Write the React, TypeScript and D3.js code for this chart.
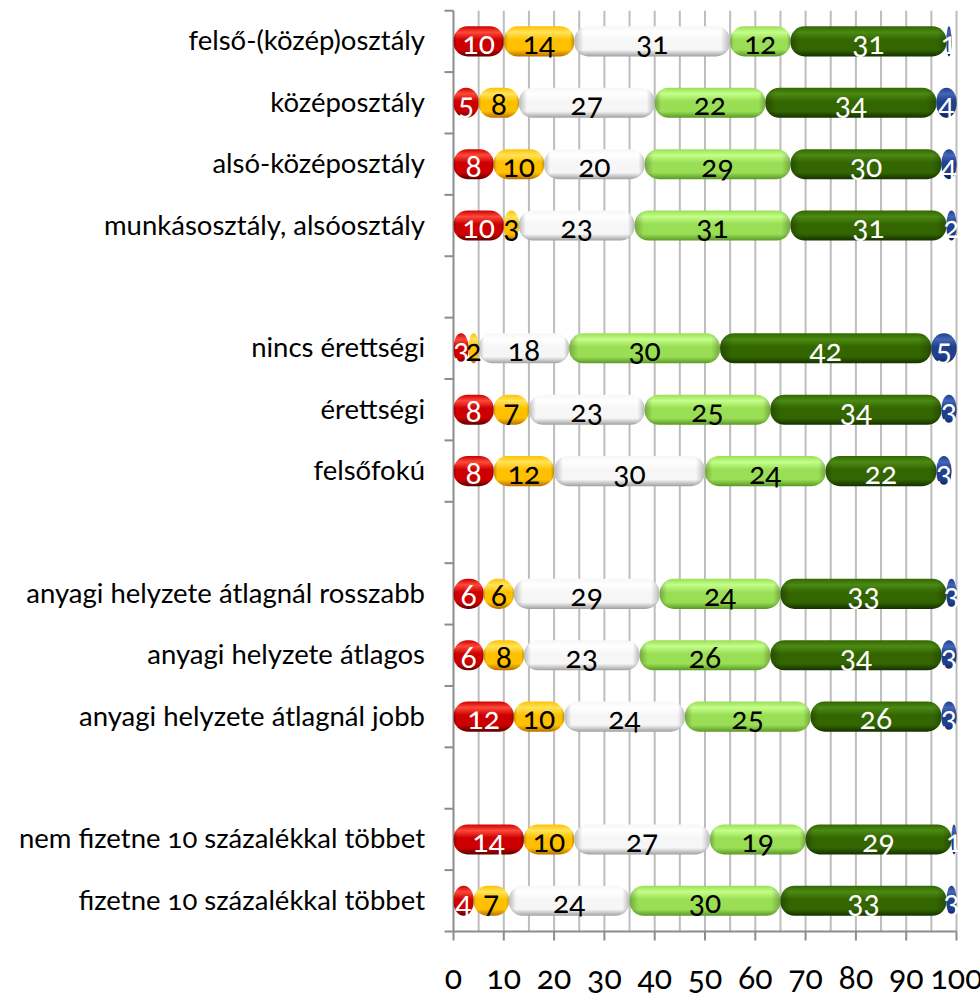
import React from "react";
import * as d3 from "d3";

const rowLabels = [
  "felső-(közép)osztály",
  "középosztály",
  "alsó-középosztály",
  "munkásosztály, alsóosztály",
  "",
  "nincs érettségi",
  "érettségi",
  "felsőfokú",
  "",
  "anyagi helyzete átlagnál rosszabb",
  "anyagi helyzete átlagos",
  "anyagi helyzete átlagnál jobb",
  "",
  "nem fizetne 10 százalékkal többet",
  "fizetne 10 százalékkal többet",
];

const seriesKeys = ["s1", "s2", "s3", "s4", "s5", "s6"];
const s1 = [10, 5, 8, 10, null, 3, 8, 8, null, 6, 6, 12, null, 14, 4];
const s2 = [14, 8, 10, 3, null, 2, 7, 12, null, 6, 8, 10, null, 10, 7];
const s3 = [31, 27, 20, 23, null, 18, 23, 30, null, 29, 23, 24, null, 27, 24];
const s4 = [12, 22, 29, 31, null, 30, 25, 24, null, 24, 26, 25, null, 19, 30];
const s5 = [31, 34, 30, 31, null, 42, 34, 22, null, 33, 34, 26, null, 29, 33];
const s6 = [1, 4, 4, 2, null, 5, 3, 3, null, 3, 3, 3, null, 1, 3];
const seriesValues = [s1, s2, s3, s4, s5, s6];

const xTicks = [0, 10, 20, 30, 40, 50, 60, 70, 80, 90, 100];
const gridValues = d3.range(5, 101, 5);

const palette = [
  { top: "#ff4a3a", mid: "#cc0000", bot: "#5e0000", text: "#ffffff" },
  { top: "#ffe45a", mid: "#ffc000", bot: "#b87000", text: "#000000" },
  { top: "#ffffff", mid: "#f6f6f6", bot: "#a0a0a0", text: "#000000" },
  { top: "#c4ff8a", mid: "#9ade55", bot: "#5a9826", text: "#000000" },
  { top: "#4c8a14", mid: "#336600", bot: "#153000", text: "#ffffff" },
  { top: "#4466b8", mid: "#203f8c", bot: "#0c1f55", text: "#ffffff" },
];

const W = 980;
const H = 999;
const left = 453.5;
const right = 956.5;
const top = 10.7;
const bottom = 931.5;

export default function App() {
  const x = d3.scaleLinear().domain([0, 100]).range([left, right]);
  const y = d3
    .scaleBand<number>()
    .domain(d3.range(rowLabels.length))
    .range([top, bottom])
    .paddingInner(0)
    .paddingOuter(0);
  const bh = y.bandwidth() * 0.49;

  const table = rowLabels.map((_, i) => {
    const o: any = { idx: i };
    seriesKeys.forEach((k, j) => (o[k] = seriesValues[j][i] ?? 0));
    return o;
  });
  const stacked = d3.stack<any>().keys(seriesKeys)(table);

  const font = "Lato, 'Open Sans', sans-serif";
  const boundaries = d3.range(rowLabels.length + 1).map((i) => top + i * y.step());

  return (
    <svg
      width={W}
      height={H}
      style={{ position: "absolute", left: 0, top: 0, background: "#fff" }}
      fontFamily={font}
    >
      <defs>
        {palette.map((p, j) => (
          <linearGradient key={j} id={`g${j}`} x1="0" y1="0" x2="0" y2="1">
            <stop offset="0" stopColor={p.mid} />
            <stop offset="0.2" stopColor={p.top} />
            <stop offset="0.45" stopColor={p.mid} />
            <stop offset="0.78" stopColor={p.mid} />
            <stop offset="1" stopColor={p.bot} />
          </linearGradient>
        ))}
        <linearGradient id="edge" x1="0" y1="0" x2="1" y2="0">
          <stop offset="0" stopColor="#000" stopOpacity={0.25} />
          <stop offset="0.06" stopColor="#000" stopOpacity={0} />
          <stop offset="0.94" stopColor="#000" stopOpacity={0} />
          <stop offset="1" stopColor="#000" stopOpacity={0.25} />
        </linearGradient>
        <clipPath id="plotclip">
          <rect x={left} y={0} width={right - left + 1} height={H} />
        </clipPath>
      </defs>

      {/* gridlines */}
      {gridValues.map((v) => (
        <line
          key={v}
          x1={x(v)}
          x2={x(v)}
          y1={top}
          y2={bottom}
          stroke="#bdbdbd"
          strokeWidth={2}
        />
      ))}

      {/* y axis */}
      <line x1={left} x2={left} y1={top} y2={bottom} stroke="#8c8c8c" strokeWidth={2} />
      {boundaries.map((b, i) => (
        <line key={i} x1={left - 9} x2={left} y1={b} y2={b} stroke="#8c8c8c" strokeWidth={2} />
      ))}
      {/* x axis */}
      <line x1={left} x2={right} y1={bottom} y2={bottom} stroke="#8c8c8c" strokeWidth={2} />
      {xTicks.map((t) => (
        <line key={t} x1={x(t)} x2={x(t)} y1={bottom} y2={bottom + 9} stroke="#8c8c8c" strokeWidth={2} />
      ))}
      {xTicks.map((t) => (
        <text
          key={t}
          x={x(t)}
          y={989}
          textAnchor="middle"
          fontSize={32}
          fill="#000"
          style={{ fontVariantNumeric: "oldstyle-nums" }}
        >
          {t}
        </text>
      ))}

      {/* category labels */}
      {rowLabels.map((l, i) =>
        l ? (
          <text
            key={i}
            x={425}
            y={(y(i) as number) + y.bandwidth() / 2}
            dy="0.33em"
            textAnchor="end"
            fontSize={27.5}
            fill="#000"
            style={{ fontVariantNumeric: "oldstyle-nums" }}
          >
            {l}
          </text>
        ) : null
      )}

      {/* bars */}
      <g clipPath="url(#plotclip)">
        {stacked.map((layer, j) =>
          layer.map((d, i) => {
            const v = d[1] - d[0];
            if (!v) return null;
            const x0 = x(d[0]);
            const x1 = x(Math.min(d[1], 100));
            const w = Math.max(0, x1 - x0);
            const yc = (y(i) as number) + y.bandwidth() / 2;
            const rx = Math.min(14, w / 2);
            return (
              <g key={`${j}-${i}`}>
                <rect x={x0} y={yc - bh / 2} width={w} height={bh} rx={rx} ry={14} fill={`url(#g${j})`} />
                <rect x={x0} y={yc - bh / 2} width={w} height={bh} rx={rx} ry={14} fill="url(#edge)" />
              </g>
            );
          })
        )}
      </g>

      {/* data labels */}
      {stacked.map((layer, j) =>
        layer.map((d, i) => {
          const v = d[1] - d[0];
          if (!v) return null;
          const xm = x((d[0] + Math.min(d[1], 100)) / 2);
          const yc = (y(i) as number) + y.bandwidth() / 2;
          return (
            <text
              key={`t${j}-${i}`}
              x={xm}
              y={yc}
              dy="0.42em"
              textAnchor="middle"
              fontSize={30}
              fill={palette[j].text}
              style={{ fontVariantNumeric: "oldstyle-nums" }}
            >
              {v}
            </text>
          );
        })
      )}
    </svg>
  );
}
